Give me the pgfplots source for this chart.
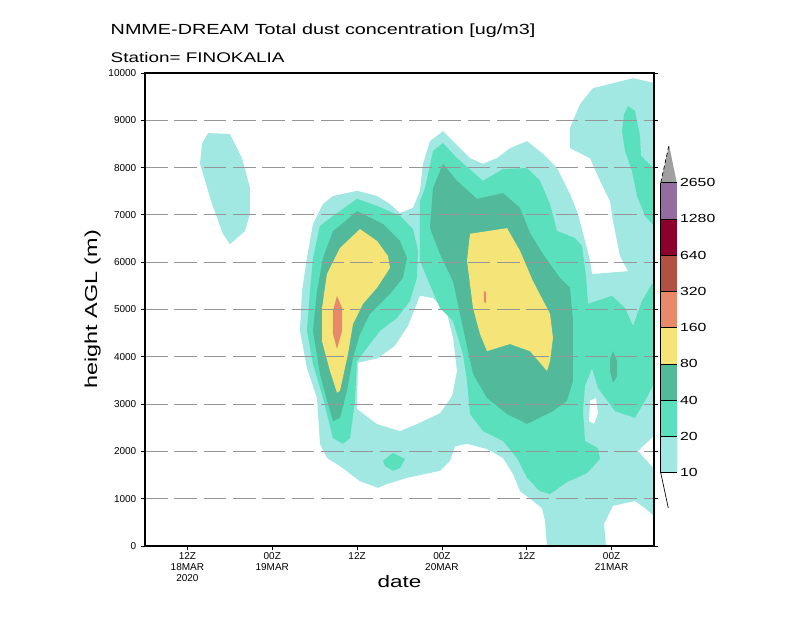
\documentclass[border=0pt]{standalone}
\usepackage{fontspec}
\setmainfont{Liberation Sans}
\newfontfamily\gradsfont{Liberation Sans}[FakeStretch=1.35]
\usepackage{pgfplots}
\pgfplotsset{compat=1.18}

% contour level colours (ug/m3)
\definecolor{c10}{RGB}{160,232,225}
\definecolor{c20}{RGB}{90,224,188}
\definecolor{c40}{RGB}{82,186,155}
\definecolor{c80}{RGB}{245,228,120}
\definecolor{c160}{RGB}{232,138,105}
\definecolor{c320}{RGB}{178,80,65}
\definecolor{c640}{RGB}{140,0,45}
\definecolor{c1280}{RGB}{148,108,160}
\definecolor{ctop}{RGB}{160,160,160}
\definecolor{gridgray}{RGB}{150,150,150}

\begin{document}
\begin{tikzpicture}
\useasboundingbox (-108.75pt,-54pt) rectangle (491.25pt,409.5pt);

% x = hours since 00Z 18MAR2020, y = height AGL in m
\begin{axis}[
  scale only axis, width=381.75pt, height=354.75pt,
  xmin=6, xmax=78, ymin=0, ymax=10000,
  scaled x ticks=false, scaled y ticks=false,
  axis on top,
  axis line style={line width=1.4pt},
  tick align=outside, major tick length=3pt,
  xtick pos=bottom, ytick pos=both, yticklabel pos=left,
  tick style={black, line width=0.6pt},
  xtick={12,24,36,48,60,72},
  xticklabels={{12Z\\18MAR\\2020},{00Z\\19MAR},{12Z},{00Z\\20MAR},{12Z},{00Z\\21MAR}},
  xticklabel style={align=center, font=\fontsize{7.5}{8.2}\selectfont, yshift=1.5pt},
  ytick={0,1000,...,10000},
  yticklabels={0,1000,2000,3000,4000,5000,6000,7000,8000,9000,10000},
  yticklabel style={font=\fontsize{7.5}{8}\selectfont},
  ymajorgrids, grid style={gridgray, line width=0.6pt, dash pattern=on 17pt off 5pt},
  xlabel={date}, ylabel={height AGL (m)},
  every axis x label/.style={at={(axis description cs:0.5,-0.0870)}, anchor=base,
    font=\gradsfont\fontsize{12.5}{14}\selectfont},
  every axis y label/.style={at={(axis description cs:-0.0943,0.5)}, anchor=base, rotate=90,
    font=\gradsfont\fontsize{13}{15}\selectfont},
]
% ---- level 10
\addplot[fill=c10, draw=none] coordinates {
 (14.91,8730) (18.02,8710) (19.72,8200) (20.85,7570) (20.85,7020) (20.14,6660)
 (18.02,6380) (17.03,6600) (15.48,7230) (13.78,8080) (14.06,8500)};
\addplot[fill=c10, draw=none] coordinates {
 (27.92,4550) (28.21,5390) (28.91,6090) (29.76,6810) (31.18,7230) (32.59,7400)
 (35.99,7510) (38.82,7400) (40.66,7230) (42.07,7040) (43.91,7150) (44.90,7510)
 (45.32,8080) (46.31,8560) (48.15,8770) (49.57,8560) (51.97,8200) (53.81,8080)
 (55.79,8200) (57.63,8410) (60.04,8560) (62.30,8290) (64.28,7990) (66.12,7440)
 (67.25,7020) (68.24,6450) (68.95,6030) (69.23,5750) (74.32,5810) (73.19,6130)
 (72.20,6870) (71.78,7290) (70.36,7720) (68.95,8200) (66.12,8410) (66.12,8840)
 (67.53,9340) (69.37,9680) (75.03,9890) (78,9790) (78,2330) (75.74,2010)
 (78,1630) (78,630) (76.73,800) (75.31,950) (72.20,850) (70.93,470)
 (71.21,0) (62.87,0) (62.58,530) (62.16,800) (60.88,950) (59.05,1160)
 (58.06,1520) (56.64,1860) (54.38,2050) (51.55,2160) (49.85,2110) (49.14,1800)
 (47.73,1590) (43.06,1440) (40.23,1310) (38.96,1230) (36.41,1370) (33.58,1690)
 (31.74,1860) (30.75,2160) (30.33,3130) (28.91,3760)};
% ---- holes below 10
\addplot[fill=white, draw=none] coordinates {
 (36.13,3870) (38.96,3970) (41.36,4230) (43.20,4650) (44.90,5290) (46.74,5240)
 (48.72,4910) (49.57,4400) (50.13,3700) (49.43,3170) (47.73,2810) (44.47,2580)
 (42.07,2430) (38.82,2580) (35.99,2900)};
\addplot[fill=white, draw=none] coordinates {
 (68.95,3070) (69.80,3130) (70.08,2810) (69.51,2580) (68.81,2640)};
% ---- level 20
\addplot[fill=c20, draw=none] coordinates {
 (30.75,6770) (32.17,6930) (35.99,7340) (38.82,7190) (42.07,6980) (43.91,6700)
 (44.62,6240) (44.47,5670) (43.48,5180) (41.65,4820) (39.24,4550) (37.40,4190)
 (35.99,3910) (35.70,3070) (35.00,2280) (34.01,2160) (32.59,2280) (31.18,3130)
 (29.76,3850) (28.91,4550) (29.34,5390) (29.76,6090)};
\addplot[fill=c20, draw=none] coordinates {
 (39.67,1800) (41.08,1970) (42.78,1840) (42.07,1650) (41.08,1590) (39.95,1690)};
\addplot[fill=c20, draw=none] coordinates {
 (45.61,7570) (46.74,8350) (48.15,8520) (50.13,8200) (53.81,7720) (56.64,7970)
 (60.04,7990) (61.88,7720) (63.29,7230) (64.28,6660) (66.83,6510) (67.82,6340)
 (68.38,5710) (68.67,5120) (72.06,5290) (73.90,5030) (75.03,4650) (76.30,5180)
 (77.72,5540) (78,5540) (78,3430) (76.73,3070) (75.31,2710) (72.49,2850)
 (70.08,3340) (69.23,3760) (68.24,3380) (67.96,2850) (68.24,2220) (70.08,2070)
 (70.36,1840) (68.52,1540) (65.69,1350) (63.29,1100) (61.88,1160) (60.04,1440)
 (58.62,1860) (56.64,2220) (53.81,2430) (51.97,2790) (51.55,3490) (50.98,4060)
 (49.57,4760) (47.73,5030) (45.89,5670) (44.90,6030) (44.90,7290)};
\addplot[fill=c20, draw=none] coordinates {
 (73.76,9130) (74.32,9300) (75.31,9200) (76.02,8670) (76.16,8250) (78,7970)
 (78,6770) (76.73,6980) (75.60,7400) (74.89,7930) (73.90,8350) (73.48,8770)};
% ---- level 40
\addplot[fill=c40, draw=none] coordinates {
 (35.99,7080) (39.67,6810) (42.07,6450) (43.06,6090) (42.49,5670) (40.66,5330)
 (37.83,4910) (36.41,4480) (35.42,3980) (34.57,3280) (33.58,2710) (32.59,2640)
 (31.89,3000) (30.75,3640) (29.76,4550) (30.33,5390) (31.18,6090) (32.59,6660)
 (33.16,6720)};
\addplot[fill=c40, draw=none] coordinates {
 (46.74,7570) (48.15,8080) (50.13,7720) (52.96,7340) (56.64,7460) (59.05,7150)
 (60.46,6620) (62.30,6170) (64.70,5670) (66.12,5460) (66.54,4760) (66.54,3490)
 (65.69,3070) (63.71,2850) (60.04,2580) (57.21,2790) (54.38,3130) (52.40,3640)
 (50.98,4610) (49.57,5600) (47.73,6170) (46.31,6720)};
\addplot[fill=c40, draw=none] coordinates {
 (72.20,4120) (72.77,3910) (72.77,3590) (72.20,3450) (71.78,3700) (71.78,3950)};
% ---- level 80
\addplot[fill=c80, draw=none] coordinates {
 (36.41,6700) (38.82,6450) (40.37,6130) (40.66,5880) (38.82,5460) (36.84,5120)
 (35.42,4690) (34.71,4060) (33.58,3280) (33.16,3240) (32.17,3700) (31.04,4330)
 (31.04,5030) (31.74,5750) (33.58,6300)};
\addplot[fill=c80, draw=none] coordinates {
 (51.97,6600) (57.21,6720) (59.05,6240) (60.88,5600) (63.29,4910) (63.71,4400)
 (63.29,3910) (62.87,3700) (60.46,4120) (57.63,4270) (54.38,4120) (53.39,4480)
 (52.40,5030) (51.55,6030)};
% ---- level 160
\addplot[fill=c160, draw=none] coordinates {
 (33.16,5290) (33.87,5030) (33.87,4550) (33.16,4170) (32.59,4480) (32.59,4970)};
\addplot[fill=c160, draw=none] coordinates {
 (53.95,5390) (54.24,5370) (54.24,5140) (53.95,5160)};
\end{axis}

% colour bar
\begin{axis}[
  at={(386.8pt,55pt)}, anchor=south west,
  scale only axis, width=12pt, height=217.5pt,
  xmin=0, xmax=1, ymin=0, ymax=8, clip=false,
  scaled y ticks=false,
  axis line style={draw=none}, xtick=\empty,
  ytick={0,...,8}, yticklabels={10,20,40,80,160,320,640,1280,2650},
  ytick style={draw=none}, yticklabel pos=right,
  yticklabel style={font=\gradsfont\fontsize{8.8}{10}\selectfont, xshift=-1pt},
]
\addplot[fill=c10, draw=none] coordinates {(0,0) (1,0) (1,1) (0,1)};
\addplot[fill=c20, draw=none] coordinates {(0,1) (1,1) (1,2) (0,2)};
\addplot[fill=c40, draw=none] coordinates {(0,2) (1,2) (1,3) (0,3)};
\addplot[fill=c80, draw=none] coordinates {(0,3) (1,3) (1,4) (0,4)};
\addplot[fill=c160, draw=none] coordinates {(0,4) (1,4) (1,5) (0,5)};
\addplot[fill=c320, draw=none] coordinates {(0,5) (1,5) (1,6) (0,6)};
\addplot[fill=c640, draw=none] coordinates {(0,6) (1,6) (1,7) (0,7)};
\addplot[fill=c1280, draw=none] coordinates {(0,7) (1,7) (1,8) (0,8)};
\addplot[fill=ctop, draw=none] coordinates {(0,8) (1,8) (0.52,9.04)};
\addplot[black, line width=0.6pt] coordinates {(0,0) (0,8)};
\addplot[black, line width=0.5pt, densely dashed] coordinates {(0,8) (0.52,9.04)};
\addplot[black, line width=0.5pt] coordinates {(0,0) (0.47,-0.97)};
\addplot[black, line width=0.6pt] coordinates {(0,0) (1,0)};
\addplot[black, line width=0.6pt] coordinates {(0,1) (1,1)};
\addplot[black, line width=0.6pt] coordinates {(0,2) (1,2)};
\addplot[black, line width=0.6pt] coordinates {(0,3) (1,3)};
\addplot[black, line width=0.6pt] coordinates {(0,4) (1,4)};
\addplot[black, line width=0.6pt] coordinates {(0,5) (1,5)};
\addplot[black, line width=0.6pt] coordinates {(0,6) (1,6)};
\addplot[black, line width=0.6pt] coordinates {(0,7) (1,7)};
\addplot[black, line width=0.6pt] coordinates {(0,8) (1,8)};
\end{axis}

\node[anchor=base west, font=\gradsfont\fontsize{11}{12}\selectfont]
  at (-29.25pt,383.25pt) {NMME-DREAM Total dust concentration [ug/m3]};
\node[anchor=base west, font=\gradsfont\fontsize{10.5}{12}\selectfont]
  at (-29.25pt,362.25pt) {Station= FINOKALIA};
\end{tikzpicture}
\end{document}
